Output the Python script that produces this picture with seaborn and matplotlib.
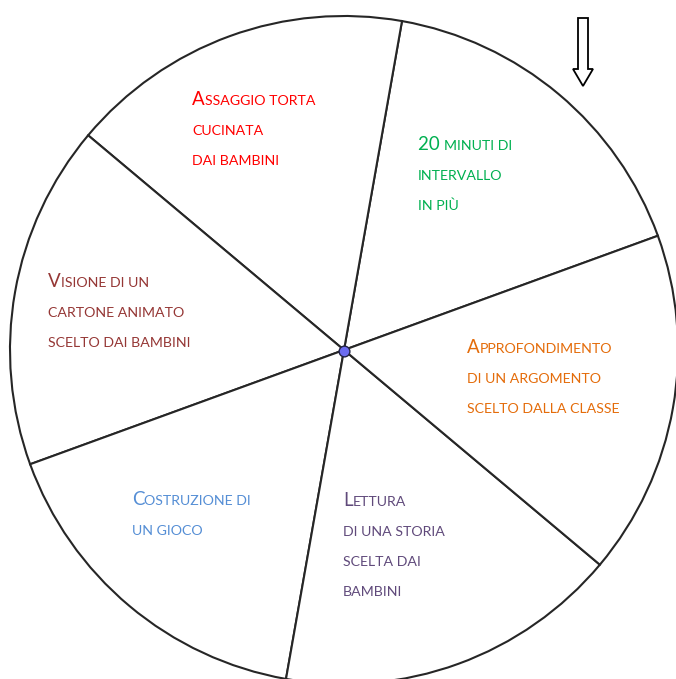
import matplotlib
matplotlib.use("Agg")
import matplotlib.pyplot as plt
import seaborn as sns
import pandas as pd
from matplotlib.patches import FancyArrow

# Wheel of rewards: six equal sectors, labels in small caps
labels = [
    ["20 minuti di", "intervallo", "in più"],
    ["Assaggio torta", "cucinata", "dai bambini"],
    ["Visione di un", "cartone animato", "scelto dai bambini"],
    ["Costruzione di", "un gioco"],
    ["Lettura", "di una storia", "scelta dai", "bambini"],
    ["Approfondimento", "di un argomento", "scelto dalla classe"],
]
shares = [1, 1, 1, 1, 1, 1]
label_colors = ["#00b050", "#ff0000", "#953735", "#558ed5", "#604a7b", "#e46c0a"]

W, H = 676, 679
cx, cy, R = 344, H - 350, 334
# top-left of each label block (pixel coords from top) and line step
label_xy = [(418, 150), (192, 105), (48, 287), (132, 505), (343, 506), (467, 353)]
step = 30

sns.set_theme(style="white")
plt.rcParams["font.family"] = ["Lato", "DejaVu Sans"]

fig = plt.figure(figsize=(W / 100, H / 100), dpi=100)
ax = fig.add_axes([0, 0, 1, 1])

wedges, _ = ax.pie(shares, center=(cx, cy), radius=R, startangle=20,
                   colors=["white"] * 6,
                   wedgeprops=dict(edgecolor="#262626", linewidth=1.5))
ax.set_aspect("auto")
ax.set_xlim(0, W)
ax.set_ylim(0, H)
ax.axis("off")

# centre pivot
pivot = pd.DataFrame({"x": [cx], "y": [cy - 1]})
sns.scatterplot(data=pivot, x="x", y="y", ax=ax, s=60, color="#6b6bf0",
                edgecolor="#222244", linewidth=1.0, zorder=5, legend=False)
ax.set_xlim(0, W)
ax.set_ylim(0, H)
ax.axis("off")

# arrow pointing at the wheel
ax.add_patch(FancyArrow(583, H - 18, 0, -68, width=10, head_width=20,
                        head_length=17, length_includes_head=True,
                        facecolor="white", edgecolor="black", linewidth=1.3))

renderer = fig.canvas.get_renderer()
BIG, SMALL = 13.5, 10.2


def runs(s):
    out = []
    for ch in s:
        big = ch.isupper() or ch.isdigit()
        if ch == " " and out:
            big = out[-1][1]
        if out and out[-1][1] == big:
            out[-1][0] += ch
        else:
            out.append([ch, big])
    return out


def smallcaps(x, y, s, color):
    for txt, big in runs(s):
        t = ax.text(x, y, txt.upper(), fontsize=BIG if big else SMALL,
                    color=color, ha="left", va="baseline")
        x += t.get_window_extent(renderer=renderer).width


for lines, (lx, ly), col in zip(labels, label_xy, label_colors):
    for i, line in enumerate(lines):
        smallcaps(lx, H - (ly + i * step), line, col)

fig.savefig("out.png", dpi=100)
